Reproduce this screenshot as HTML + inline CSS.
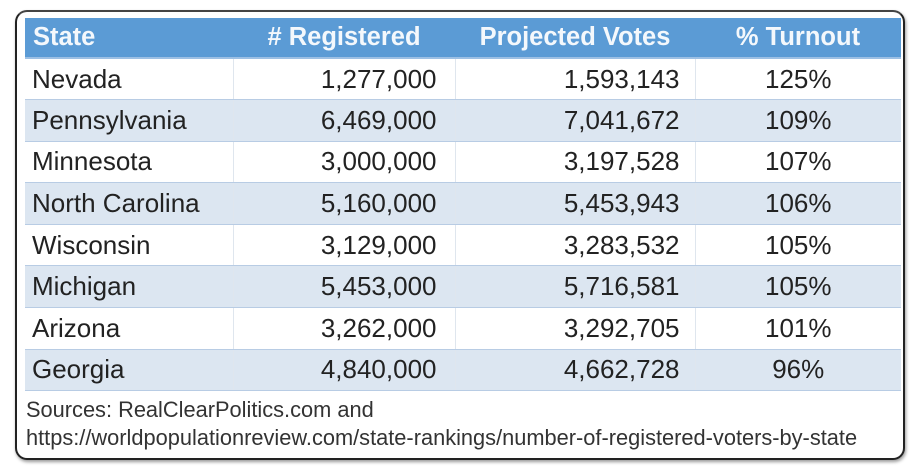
<!DOCTYPE html>
<html><head><meta charset="utf-8"><style>
body{margin:0;width:912px;height:468px;background:#fff;position:relative;overflow:hidden;font-family:"Liberation Sans",sans-serif;}
.card{position:absolute;left:15px;top:10px;width:886px;height:446px;border:2px solid #222;border-radius:12px;border-top-color:#444;box-shadow:1px 2px 3px rgba(0,0,0,.4);background:#fff;}
table{position:absolute;left:25px;top:18px;border-collapse:collapse;width:876px;table-layout:fixed;}
td,th{height:41.6px;padding:0;font-size:26px;color:#222;border-bottom:1px solid #b8cce4;box-sizing:border-box;white-space:nowrap;}
th{background:#5b9bd5;color:#f4f8fc;font-weight:bold;height:40px;font-size:25.5px;border-bottom:2px solid #9dc0e4;}
tr:nth-child(odd) td{background:#dce6f1;}
td:first-child{text-align:left;padding-left:7px;border-right:1px solid #dfe6ee;}
td:nth-child(2){text-align:right;padding-right:18px;border-right:1px solid #dfe6ee;}
td:nth-child(3){text-align:right;padding-right:15px;border-right:1px solid #dfe6ee;}
td:nth-child(4){text-align:center;}
th:first-child{text-align:left;padding-left:8px;}
.src{position:absolute;left:26px;top:396px;font-size:21.8px;color:#333;line-height:28px;}
</style></head><body>
<div class="card"></div>
<table>
<colgroup><col style="width:208px"><col style="width:222px"><col style="width:240px"><col style="width:206px"></colgroup>
<tr><th>State</th><th># Registered</th><th>Projected Votes</th><th>% Turnout</th></tr>
<tr><td>Nevada</td><td>1,277,000</td><td>1,593,143</td><td>125%</td></tr>
<tr><td>Pennsylvania</td><td>6,469,000</td><td>7,041,672</td><td>109%</td></tr>
<tr><td>Minnesota</td><td>3,000,000</td><td>3,197,528</td><td>107%</td></tr>
<tr><td>North Carolina</td><td>5,160,000</td><td>5,453,943</td><td>106%</td></tr>
<tr><td>Wisconsin</td><td>3,129,000</td><td>3,283,532</td><td>105%</td></tr>
<tr><td>Michigan</td><td>5,453,000</td><td>5,716,581</td><td>105%</td></tr>
<tr><td>Arizona</td><td>3,262,000</td><td>3,292,705</td><td>101%</td></tr>
<tr><td>Georgia</td><td>4,840,000</td><td>4,662,728</td><td>96%</td></tr>
</table>
<div class="src">Sources: RealClearPolitics.com and<br>https://worldpopulationreview.com/state-rankings/number-of-registered-voters-by-state</div>
</body></html>
